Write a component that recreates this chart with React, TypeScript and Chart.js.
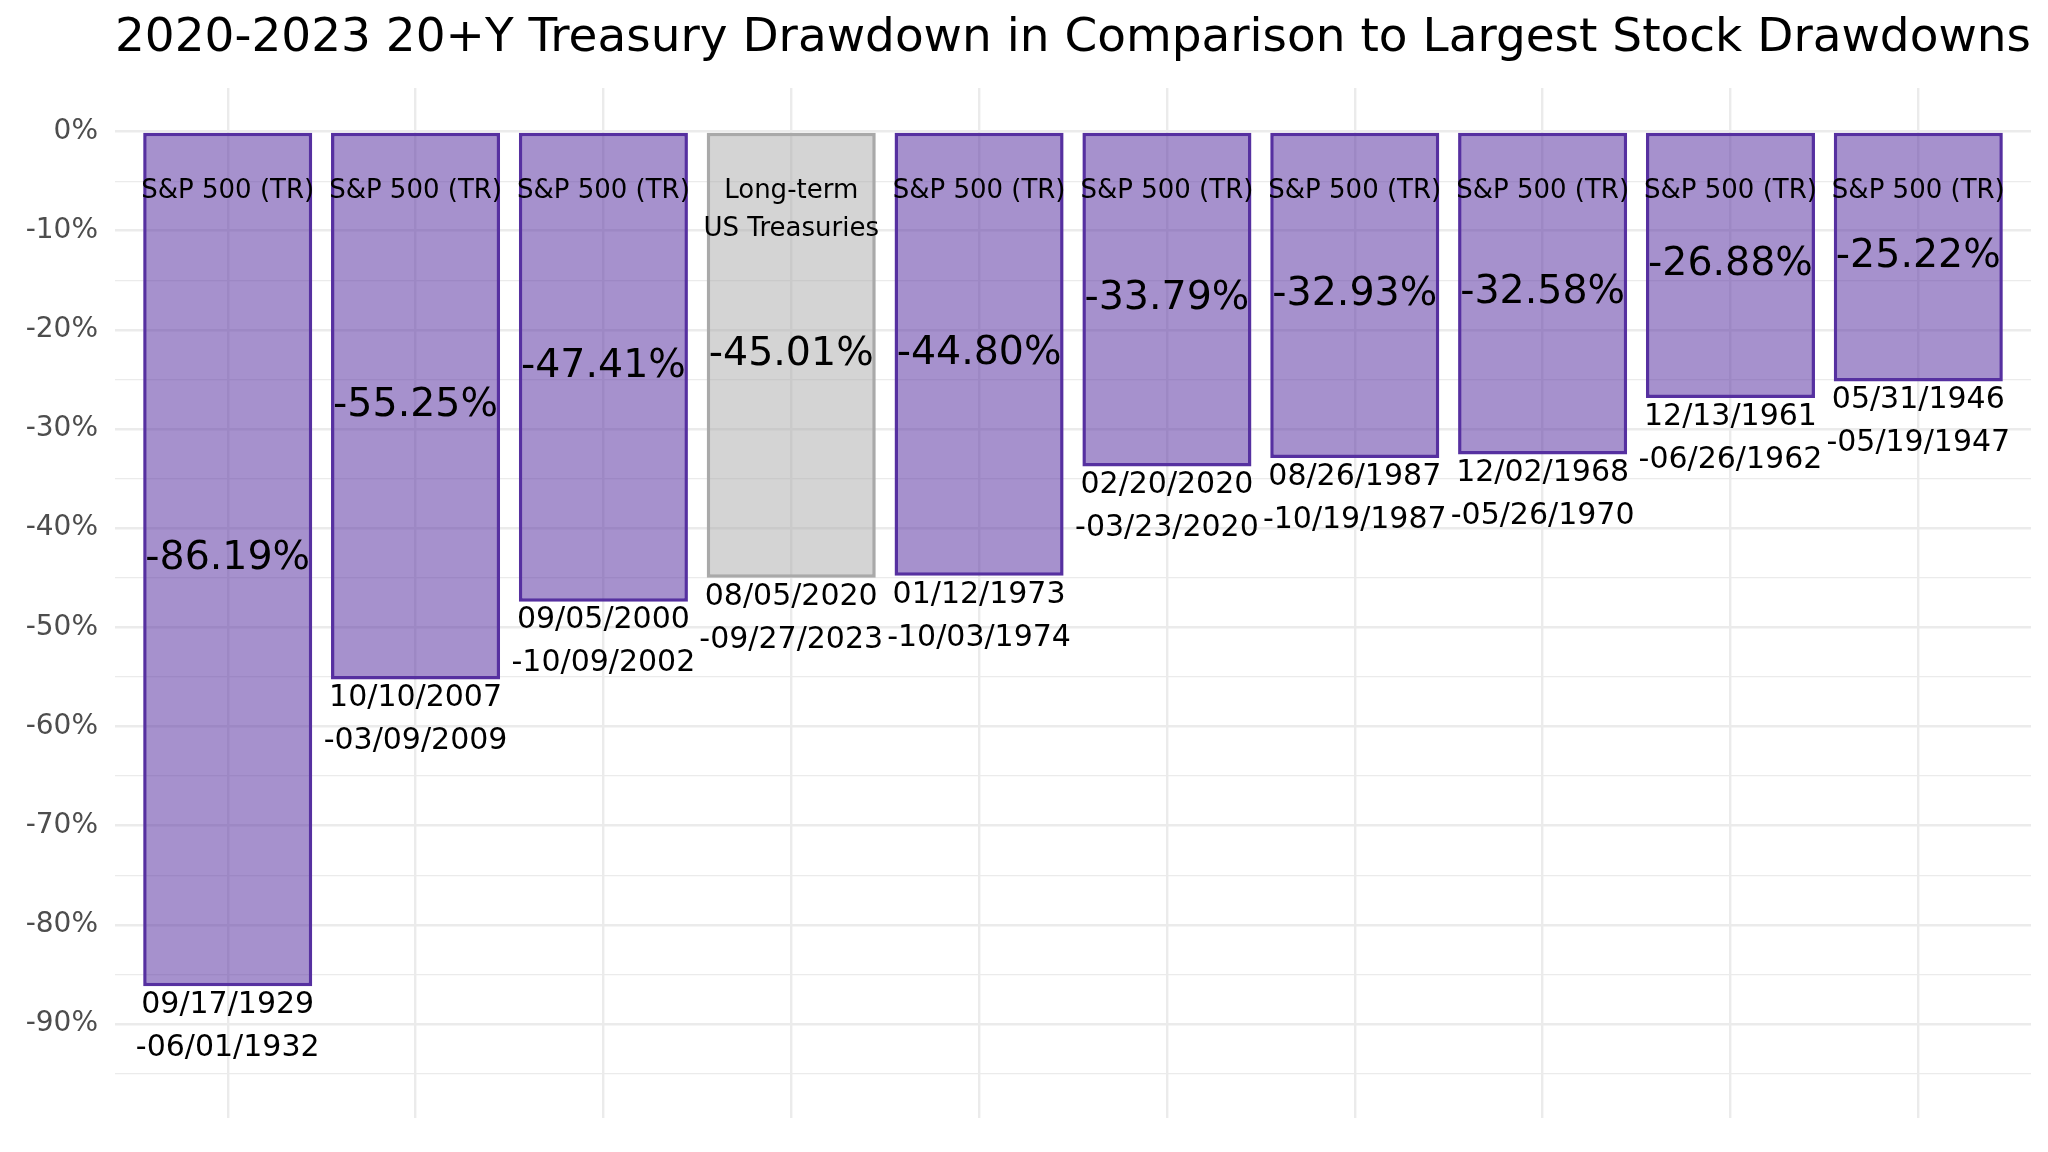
import React, { useEffect, useRef } from "react";
import { Chart, registerables } from "chart.js";

Chart.register(...registerables);

const groups: string[][] = [
  ["S&P 500 (TR)"],
  ["S&P 500 (TR)"],
  ["S&P 500 (TR)"],
  ["Long-term", "US Treasuries"],
  ["S&P 500 (TR)"],
  ["S&P 500 (TR)"],
  ["S&P 500 (TR)"],
  ["S&P 500 (TR)"],
  ["S&P 500 (TR)"],
  ["S&P 500 (TR)"],
];
const drawdowns: number[] = [-86.19, -55.25, -47.41, -45.01, -44.8, -33.79, -32.93, -32.58, -26.88, -25.22];
const startDates: string[] = [
  "09/17/1929", "10/10/2007", "09/05/2000", "08/05/2020", "01/12/1973",
  "02/20/2020", "08/26/1987", "12/02/1968", "12/13/1961", "05/31/1946",
];
const endDates: string[] = [
  "06/01/1932", "03/09/2009", "10/09/2002", "09/27/2023", "10/03/1974",
  "03/23/2020", "10/19/1987", "05/26/1970", "06/26/1962", "05/19/1947",
];
const isTreasury: boolean[] = [false, false, false, true, false, false, false, false, false, false];
const yTicks: number[] = [-95, -90, -85, -80, -75, -70, -65, -60, -55, -50, -45, -40, -35, -30, -25, -20, -15, -10, -5, 0];

const TITLE = "2020-2023 20+Y Treasury Drawdown in Comparison to Largest Stock Drawdowns";
const FONT = "'DejaVu Sans', sans-serif";

const PURPLE = "rgb(86,48,160)";
const PURPLE_FILL = "rgba(86,48,160,0.53)";
const GREY = "rgb(169,169,169)";
const GREY_FILL = "rgba(169,169,169,0.5)";

const labelPlugin = {
  id: "barLabels",
  afterDatasetsDraw(chart: any) {
    const ctx = chart.ctx;
    const meta = chart.getDatasetMeta(0);
    const y = chart.scales.y;
    ctx.save();
    ctx.fillStyle = "#000000";
    ctx.textAlign = "center";
    ctx.textBaseline = "middle";
    meta.data.forEach((bar: any, i: number) => {
      const x = bar.x;
      ctx.font = `26px ${FONT}`;
      const gy = y.getPixelForValue(-6);
      groups[i].forEach((line, k) => ctx.fillText(line, x, gy + k * 38));
      ctx.font = `39.5px ${FONT}`;
      ctx.fillText(drawdowns[i].toFixed(2) + "%", x, y.getPixelForValue(drawdowns[i] / 2));
      ctx.font = `30px ${FONT}`;
      const end = y.getPixelForValue(drawdowns[i]);
      ctx.fillText(startDates[i], x, end + 19);
      ctx.fillText("-" + endDates[i], x, end + 62);
    });
    ctx.restore();
  },
};

export default function App() {
  const ref = useRef<HTMLCanvasElement>(null);
  useEffect(() => {
    if (!ref.current) return;
    const chart = new Chart(ref.current, {
      type: "bar",
      data: {
        datasets: [
          {
            data: drawdowns.map((v, i) => ({ x: i + 1, y: v })),
            backgroundColor: isTreasury.map((t) => (t ? GREY_FILL : PURPLE_FILL)),
            borderColor: isTreasury.map((t) => (t ? GREY : PURPLE)),
            borderWidth: 3.5,
            borderSkipped: false,
            barPercentage: 0.9,
            categoryPercentage: 1,
          },
        ],
      },
      options: {
        responsive: false,
        animation: false,
        layout: { padding: { left: 0, right: 17, top: 0, bottom: 24 } },
        plugins: {
          legend: { display: false },
          tooltip: { enabled: false },
          title: {
            display: true,
            fullSize: false,
            text: TITLE,
            color: "#000000",
            font: { family: FONT, size: 47, weight: "normal" },
            padding: { top: 11, bottom: 20.5 },
          },
        },
        scales: {
          x: {
            type: "linear",
            min: 0.4,
            max: 10.6,
            offset: false,
            afterBuildTicks: (axis: any) => {
              axis.ticks = drawdowns.map((_, i) => ({ value: i + 1 }));
            },
            afterFit: (scale: any) => {
              scale.height = 0;
            },
            ticks: { display: false },
            border: { display: false },
            grid: { color: "#EBEBEB", lineWidth: 2.4, drawTicks: false, offset: false },
          },
          y: {
            min: -99.5,
            max: 4.4,
            afterBuildTicks: (axis: any) => {
              axis.ticks = yTicks.map((v) => ({ value: v }));
            },
            afterFit: (scale: any) => {
              scale.width = 115;
            },
            border: { display: false },
            grid: {
              drawTicks: false,
              color: "#EBEBEB",
              lineWidth: (c: any) => (c.tick && Math.abs(c.tick.value % 10) === 0 ? 2.4 : 1.2),
            },
            ticks: {
              padding: 17,
              color: "#4D4D4D",
              font: { family: FONT, size: 28 },
              callback: (v: any) => (Number(v) % 10 === 0 ? `${v}%` : ""),
            },
          },
        },
      },
      plugins: [labelPlugin],
    } as any);
    return () => chart.destroy();
  }, []);
  return (
    <div style={{ position: "fixed", left: 0, top: 0, width: 2048, height: 1152, background: "#fff" }}>
      <canvas ref={ref} width={2048} height={1152} />
    </div>
  );
}
